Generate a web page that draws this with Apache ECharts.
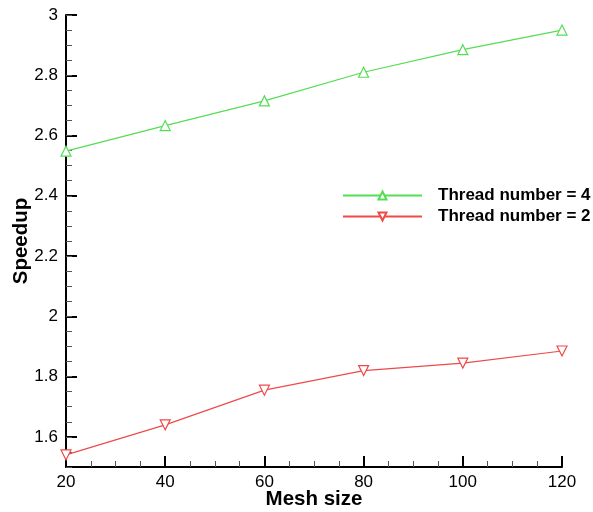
<!DOCTYPE html>
<html>
<head>
<meta charset="utf-8">
<script src="https://cdn.jsdelivr.net/npm/echarts@6/dist/echarts.min.js"></script>
<style>
  html, body { margin: 0; padding: 0; background: #fff; }
  #chart { width: 593px; height: 512px; }
</style>
</head>
<body>
<div id="chart"></div>
<script>
// Mesh sizes on the x axis
const meshSizes = [20, 40, 60, 80, 100, 120];
// Measured speedup for each thread count
const speedupThread4 = [2.548, 2.633, 2.715, 2.81, 2.885, 2.95];
const speedupThread2 = [1.54, 1.64, 1.755, 1.82, 1.845, 1.885];
// Labelled y ticks
const yTickValues = [1.6, 1.8, 2, 2.2, 2.4, 2.6, 2.8, 3];

const FONT = 'Liberation Sans, Arial, sans-serif';
const GREEN = '#55dd55';
const RED = '#ee4a4a';

const chart = echarts.init(document.getElementById('chart'));

chart.setOption({
  animation: false,
  backgroundColor: '#fff',
  grid: { left: 66, right: 31, top: 15, bottom: 45, containLabel: false, outerBoundsMode: 'none' },
  legend: {
    orient: 'vertical',
    left: 342,
    top: 187,
    padding: 0,
    itemWidth: 79,
    itemHeight: 10,
    itemGap: 4,
    data: ['Thread number = 4', 'Thread number = 2'],
    textStyle: {
      fontFamily: FONT, fontSize: 17, fontWeight: 'bold', color: '#000',
      padding: [0, 0, 0, 11]
    }
  },
  xAxis: {
    type: 'value',
    min: 20, max: 120, interval: 20,
    name: 'Mesh size',
    nameLocation: 'middle',
    nameGap: 22,
    nameMoveOverlap: false,
    nameTextStyle: { fontFamily: FONT, fontSize: 20.5, fontWeight: 'bold', color: '#000' },
    axisLine: { lineStyle: { color: '#000', width: 2 } },
    axisTick: { inside: true, length: 11, lineStyle: { color: '#000', width: 2 } },
    minorTick: { show: true, splitNumber: 4, length: 6, lineStyle: { color: '#555', width: 1 } },
    axisLabel: { fontFamily: FONT, fontSize: 17, color: '#000', margin: 7 },
    splitLine: { show: false }
  },
  yAxis: [
    {
      type: 'value',
      min: 1.5, max: 3,
      name: 'Speedup',
      nameLocation: 'middle',
      nameGap: 34,
      nameMoveOverlap: false,
      nameTextStyle: { fontFamily: FONT, fontSize: 20.5, fontWeight: 'bold', color: '#000' },
      axisLine: { show: true, lineStyle: { color: '#000', width: 2 } },
      axisTick: { inside: true, length: 11, customValues: yTickValues, lineStyle: { color: '#000', width: 2 } },
      axisLabel: { fontFamily: FONT, fontSize: 17, color: '#000', margin: 8, customValues: yTickValues },
      splitLine: { show: false }
    },
    {
      // fine ticks every 0.05 along the left edge
      type: 'value',
      position: 'left',
      min: 1.5, max: 3, interval: 0.05,
      axisLine: { show: false },
      axisTick: { show: true, inside: true, length: 6, lineStyle: { color: '#555', width: 1 } },
      axisLabel: { show: false },
      splitLine: { show: false }
    }
  ],
  series: [
    {
      name: 'Thread number = 4',
      type: 'line',
      data: meshSizes.map((x, i) => [x, speedupThread4[i]]),
      symbol: 'triangle',
      symbolSize: 10,
      showAllSymbol: true,
      lineStyle: { color: GREEN, width: 1.2 },
      itemStyle: { color: '#fff', borderColor: GREEN, borderWidth: 1.2 }
    },
    {
      name: 'Thread number = 2',
      type: 'line',
      data: meshSizes.map((x, i) => [x, speedupThread2[i]]),
      symbol: 'triangle',
      symbolRotate: 180,
      symbolSize: 10,
      showAllSymbol: true,
      lineStyle: { color: RED, width: 1.2 },
      itemStyle: { color: '#fff', borderColor: RED, borderWidth: 1.2 }
    }
  ]
});
</script>
</body>
</html>
